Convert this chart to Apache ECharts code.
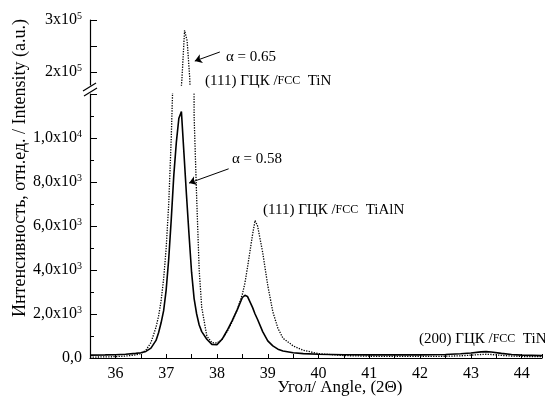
<!DOCTYPE html>
<html>
<head>
<meta charset="utf-8">
<script src="https://cdn.jsdelivr.net/npm/echarts@6/dist/echarts.min.js"></script>
<style>
  html, body { margin: 0; padding: 0; background: #fff; }
  #chart { width: 545px; height: 401px; }
</style>
</head>
<body>
<div id="chart"></div>
<script>
// угол 2Θ, градусы
const angle = [35.5, 35.8, 36.0, 36.2, 36.4, 36.5, 36.6, 36.7, 36.8, 36.85, 36.9, 36.95, 37.0, 37.05, 37.1, 37.15,
  37.2, 37.25, 37.3, 37.35, 37.4, 37.45, 37.5, 37.55, 37.6, 37.65, 37.7, 37.8, 37.9, 38.0, 38.1, 38.2, 38.3, 38.4,
  38.5, 38.55, 38.6, 38.7, 38.75, 38.8, 38.9, 39.0, 39.1, 39.2, 39.3, 39.5, 39.7, 40.0, 40.5, 41.0, 41.5, 42.0,
  42.5, 42.8, 43.0, 43.2, 43.3, 43.4, 43.6, 43.8, 44.0, 44.4];

// α = 0.58 (сплошная)
const solid058 = [130, 140, 150, 170, 210, 240, 300, 450, 800, 1150, 1600, 2150, 3100, 4500, 6300, 8300,
  9800, 10900, 11200, 9300, 7400, 5600, 3900, 2700, 2000, 1500, 1200, 850, 620, 600, 850, 1250, 1700, 2200,
  2750, 2850, 2800, 2300, 2000, 1750, 1200, 780, 550, 400, 320, 240, 200, 170, 150, 140, 140, 140,
  160, 190, 230, 280, 290, 270, 210, 160, 130, 110];

// α = 0.65 (пунктир)
const dotted065 = [40, 50, 60, 90, 140, 200, 350, 700, 1400, 1900, 2600, 3600, 5000, 7000, 10000, 14000,
  40000, 120000, 190000, 280000, 260000, 190000, 60000, 11000, 7300, 4000, 2300, 1000, 700, 680, 850, 1200, 1650, 2200,
  2900, 3400, 4100, 5600, 6250, 6000, 4800, 3300, 2100, 1350, 900, 550, 350, 200, 110, 80, 70, 70,
  80, 100, 130, 160, 170, 160, 120, 90, 70, 60];

const upperTicks = [200000, 250000, 300000];
const upperLabels = [200000, 300000];

const FONT = '"Liberation Serif", "DejaVu Serif", serif';

function sciLabel(v, decimals) {
  if (v === 0) return '{b|0,0}';
  const e = Math.floor(Math.log10(v));
  const m = (v / Math.pow(10, e)).toFixed(decimals).replace('.', ',');
  return '{b|' + m + 'x10}{s|' + e + '}';
}

const richStyle = {
  b: { fontFamily: FONT, fontSize: 16, color: '#000', lineHeight: 18 },
  s: { fontFamily: FONT, fontSize: 10, color: '#000', verticalAlign: 'top', lineHeight: 18 }
};

const solidPairs = angle.map((a, i) => [a, solid058[i]]);
const dottedPairs = angle.map((a, i) => [a, dotted065[i]]);

const solidStyle = { color: '#000', width: 1.6, type: 'solid' };
const dottedStyle = { color: '#000', width: 1.3, type: 'dotted' };

const noteRich = {
  a: { fontFamily: FONT, fontSize: 15, fill: '#000' },
  c: { fontFamily: FONT, fontSize: 12, fill: '#000' }
};

const chart = echarts.init(document.getElementById('chart'));

chart.setOption({
  animation: false,
  backgroundColor: '#fff',
  grid: [
    { left: 90, right: 0, top: 20, height: 65 },
    { left: 90, right: 0, top: 94, bottom: 43 }
  ],
  xAxis: [
    { type: 'value', gridIndex: 0, min: 35.5, max: 44.4, show: false },
    {
      type: 'value', gridIndex: 1, min: 35.5, max: 44.4, interval: 0.5,
      axisLine: { show: true, onZero: false, lineStyle: { color: '#000', width: 1.2 } },
      axisTick: { inside: true, length: 4, lineStyle: { color: '#000' } },
      axisLabel: {
        color: '#000', fontFamily: FONT, fontSize: 16, margin: 8,
        formatter: v => (Math.abs(v - Math.round(v)) < 1e-6 ? String(Math.round(v)) : '')
      },
      splitLine: { show: false }
    }
  ],
  yAxis: [
    {
      type: 'value', gridIndex: 0, min: 175000, max: 300000,
      axisLine: { show: true, lineStyle: { color: '#000', width: 1.2 } },
      axisTick: { show: true, inside: true, length: 7, customValues: upperTicks, lineStyle: { color: '#000' } },
      axisLabel: {
        customValues: upperLabels, margin: 8,
        formatter: v => sciLabel(v, 0), rich: richStyle
      },
      splitLine: { show: false }
    },
    {
      type: 'value', gridIndex: 1, min: 0, max: 12000, interval: 2000,
      axisLine: { show: true, lineStyle: { color: '#000', width: 1.2 } },
      axisTick: { inside: true, length: 7, lineStyle: { color: '#000' } },
      minorTick: { show: true, splitNumber: 2, length: 4, lineStyle: { color: '#000' } },
      axisLabel: {
        margin: 8,
        formatter: v => (v >= 12000 ? '' : sciLabel(v, 1)), rich: richStyle
      },
      splitLine: { show: false }
    }
  ],
  series: [
    {
      type: 'line', xAxisIndex: 0, yAxisIndex: 0, data: dottedPairs, showSymbol: false,
      lineStyle: dottedStyle, clip: true,
      markLine: {
        silent: true, symbol: ['none', 'arrow'], symbolSize: 7,
        lineStyle: { color: '#000', width: 1, type: 'solid' }, label: { show: false },
        data: [[{ coord: [38.04, 238500] }, { coord: [37.55, 221000] }]]
      }
    },
    { type: 'line', xAxisIndex: 0, yAxisIndex: 0, data: solidPairs, showSymbol: false, lineStyle: solidStyle, clip: true },
    { type: 'line', xAxisIndex: 1, yAxisIndex: 1, data: dottedPairs, showSymbol: false, lineStyle: dottedStyle, clip: true },
    {
      type: 'line', xAxisIndex: 1, yAxisIndex: 1, data: solidPairs, showSymbol: false, lineStyle: solidStyle, clip: true,
      markLine: {
        silent: true, symbol: ['none', 'arrow'], symbolSize: 7,
        lineStyle: { color: '#000', width: 1, type: 'solid' }, label: { show: false },
        data: [[{ coord: [38.23, 8600] }, { coord: [37.45, 7950] }]]
      }
    }
  ],
  graphic: [
    {
      type: 'text', x: 20, y: 168, rotation: Math.PI / 2,
      style: {
        text: 'Интенсивность, отн.ед. / Intensity (a.u.)', font: '18px ' + FONT,
        fill: '#000', align: 'center', verticalAlign: 'middle'
      }
    },
    {
      type: 'text', x: 340, y: 388,
      style: { text: 'Угол/ Angle, (2Θ)', font: '17px ' + FONT, fill: '#000', align: 'center', verticalAlign: 'middle' }
    },
    { type: 'line', shape: { x1: 83, y1: 91, x2: 96, y2: 83 }, style: { stroke: '#000', lineWidth: 1.2 } },
    { type: 'line', shape: { x1: 84, y1: 96, x2: 97, y2: 88 }, style: { stroke: '#000', lineWidth: 1.2 } },
    {
      type: 'text', x: 226, y: 57,
      style: { text: 'α = 0.65', font: '15px ' + FONT, fill: '#000', verticalAlign: 'middle' }
    },
    {
      type: 'text', x: 205, y: 81,
      style: { text: '{a|(111) ГЦК /}{c|FCC}{a|  TiN}', verticalAlign: 'middle', rich: noteRich }
    },
    {
      type: 'text', x: 232, y: 159,
      style: { text: 'α = 0.58', font: '15px ' + FONT, fill: '#000', verticalAlign: 'middle' }
    },
    {
      type: 'text', x: 263, y: 210,
      style: { text: '{a|(111) ГЦК /}{c|FCC}{a|  TiAlN}', verticalAlign: 'middle', rich: noteRich }
    },
    {
      type: 'text', x: 419, y: 339,
      style: { text: '{a|(200) ГЦК /}{c|FCC}{a|  TiN}', verticalAlign: 'middle', rich: noteRich }
    }
  ]
});
</script>
</body>
</html>
